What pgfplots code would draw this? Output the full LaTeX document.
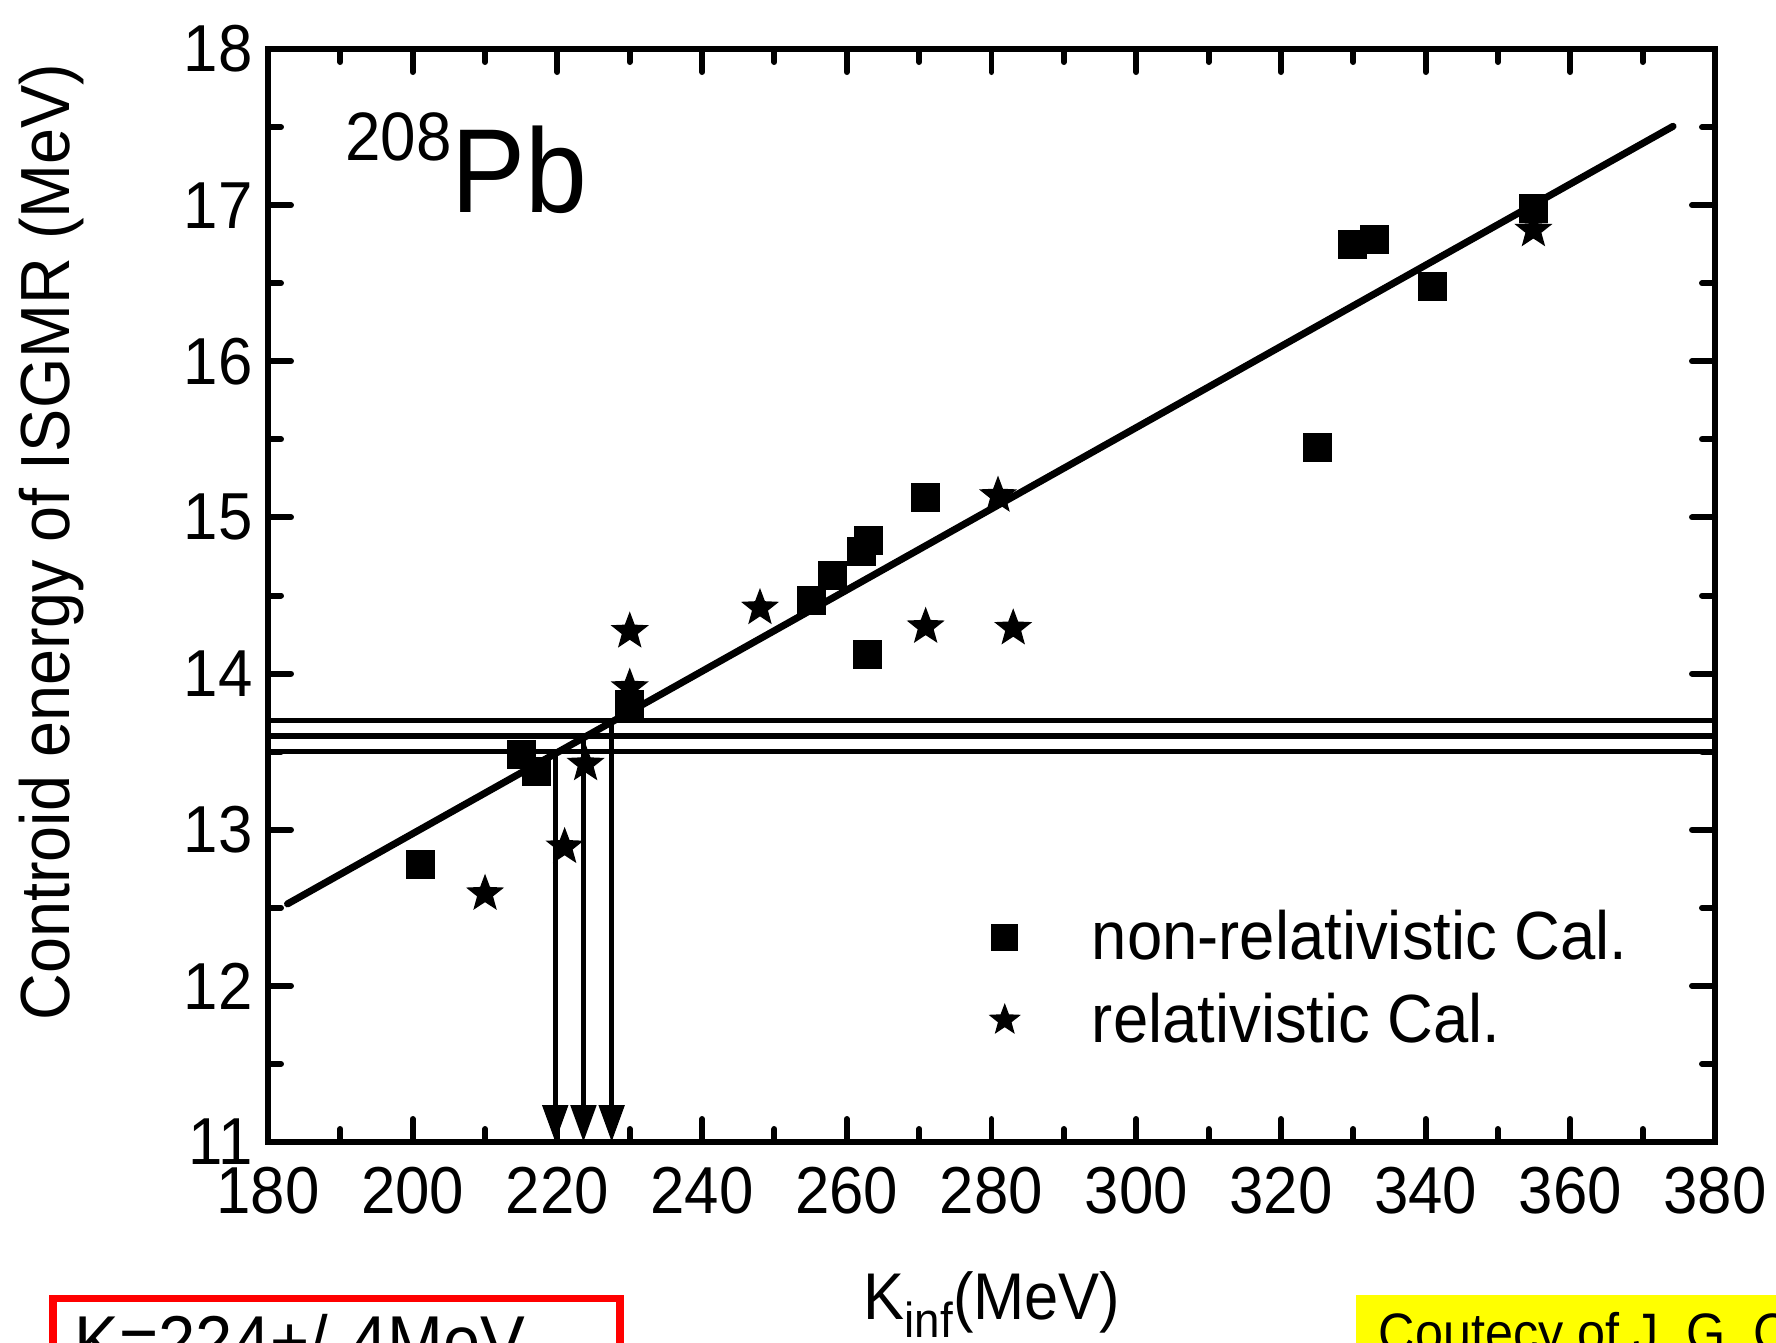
\documentclass[border=0pt]{standalone}
\usepackage{fontspec}
\setmainfont{Liberation Sans}[FakeStretch=0.93]
\usepackage{pgfplots}
\pgfplotsset{compat=1.18}
\usetikzlibrary{arrows.meta}
\definecolor{boxred}{RGB}{255,0,0}
\definecolor{boxyellow}{RGB}{255,255,0}

\pgfdeclareplotmark{pstar}{%
 \pgfpathmoveto{\pgfpointpolar{90}{\pgfplotmarksize}}%
 \pgfpathlineto{\pgfpointpolar{126}{0.42\pgfplotmarksize}}%
 \pgfpathlineto{\pgfpointpolar{162}{\pgfplotmarksize}}%
 \pgfpathlineto{\pgfpointpolar{198}{0.42\pgfplotmarksize}}%
 \pgfpathlineto{\pgfpointpolar{234}{\pgfplotmarksize}}%
 \pgfpathlineto{\pgfpointpolar{270}{0.42\pgfplotmarksize}}%
 \pgfpathlineto{\pgfpointpolar{306}{\pgfplotmarksize}}%
 \pgfpathlineto{\pgfpointpolar{342}{0.42\pgfplotmarksize}}%
 \pgfpathlineto{\pgfpointpolar{18}{\pgfplotmarksize}}%
 \pgfpathlineto{\pgfpointpolar{54}{0.42\pgfplotmarksize}}%
 \pgfpathclose
 \pgfusepathqfill}

\begin{document}
\begin{tikzpicture}
\path[use as bounding box] (-2.68,-2.00) rectangle (15.08,11.42);
\clip (-2.68,-2.00) rectangle (15.08,11.42);
\begin{axis}[
 at={(0,0)}, anchor=south west,
 scale only axis, width=14.47cm, height=10.93cm,
 xmin=180, xmax=380, ymin=11, ymax=18,
 xtick={180,200,...,380}, ytick={11,12,...,18},
 minor x tick num=1, minor y tick num=1,
 tick align=inside, major tick length=0.23cm, minor tick length=0.13cm,
 tick style={black, line width=1.7pt, line cap=round},
 axis line style={line width=1.9pt},
 /pgf/number format/assume math mode=true,
 ticklabel style={font=\fontsize{18.9}{20}\selectfont},
 xticklabel style={yshift=-0.13cm},
 yticklabel style={xshift=-0.03cm},
 clip=false,
 legend cell align=left,
 legend style={draw=none, fill=none, inner sep=0pt, row sep=0.28cm,
   at={(axis cs:279.5,12.49)}, anchor=north west,
   font=\fontsize{19.4}{20}\selectfont, nodes={inner sep=0pt},
   /tikz/every odd column/.append style={column sep=0.71cm}},
 legend image code/.code={\draw[#1] plot coordinates {(0cm,0cm)};},
]
\addplot[forget plot, line width=1.5pt] coordinates {(180,13.5)(380,13.5)};
\addplot[forget plot, line width=1.5pt] coordinates {(180,13.6)(380,13.6)};
\addplot[forget plot, line width=1.5pt] coordinates {(180,13.7)(380,13.7)};
\addplot[forget plot, line width=1.5pt, -{Triangle[width=0.25cm,length=0.37cm]}] coordinates {(219.7,13.5)(219.7,11)};
\addplot[forget plot, line width=1.5pt, -{Triangle[width=0.25cm,length=0.37cm]}] coordinates {(223.6,13.6)(223.6,11)};
\addplot[forget plot, line width=1.5pt, -{Triangle[width=0.25cm,length=0.37cm]}] coordinates {(227.5,13.7)(227.5,11)};
\addplot[forget plot, line width=2pt, line cap=round] coordinates {(182.7,12.525)(374.2,17.505)};

\addplot[forget plot, only marks, mark=pstar, mark size=0.2cm, black]
 coordinates {
 (210.0,12.59) (221.0,12.89) (223.9,13.42) (230.0,14.27) (230.0,13.91)
 (248.0,14.42) (270.9,14.30) (280.9,15.14) (283.0,14.29) (354.9,16.84)
 };
\addplot[forget plot, only marks, mark=square*, mark size=0.14cm, black, mark options={line width=0.3pt}]
 coordinates {
 (201.1,12.78) (215.1,13.48) (217.1,13.37) (230.0,13.80) (255.1,14.47)
 (258.0,14.63) (262.0,14.78) (263.0,14.85) (262.9,14.12) (270.9,15.13)
 (325.0,15.45) (329.9,16.75) (332.9,16.78) (340.9,16.48) (354.9,16.98)
 };
\addlegendimage{black, only marks, mark=square*, mark size=0.13cm, mark options={line width=0.3pt}}
\addlegendentry{non-relativistic Cal.}
\addlegendimage{black, only marks, mark=pstar, mark size=0.17cm}
\addlegendentry{relativistic Cal.}
\end{axis}

\node[anchor=base west, inner sep=0pt] at (0.765,9.29)
 {\raisebox{0.52cm}{\fontsize{19.5}{19}\selectfont 208}\fontsize{34}{34}\selectfont Pb};
\node[rotate=90, anchor=base, inner sep=0pt] at (-1.98,6.0)
 {\fontsize{19.8}{20}\selectfont Controid energy of ISGMR (MeV)};
\node[anchor=base west, inner sep=0pt] at (5.95,-1.77)
 {\fontsize{18.8}{20}\selectfont K\raisebox{-0.18cm}{\fontsize{14}{14}\selectfont inf}(MeV)};

\draw[boxred, line width=0.075cm] (-2.15,-2.6) rectangle (3.52,-1.567);
\node[anchor=base west, inner sep=0pt] at (-1.94,-2.24)
 {\fontsize{20.5}{20}\selectfont K=224+/-4MeV};

\fill[boxyellow] (10.88,-1.527) rectangle (16,-2.6);
\node[anchor=base west, inner sep=0pt] at (11.10,-2.09)
 {\fontsize{15.4}{16}\selectfont Coutecy of J. G. C};
\end{tikzpicture}
\end{document}
